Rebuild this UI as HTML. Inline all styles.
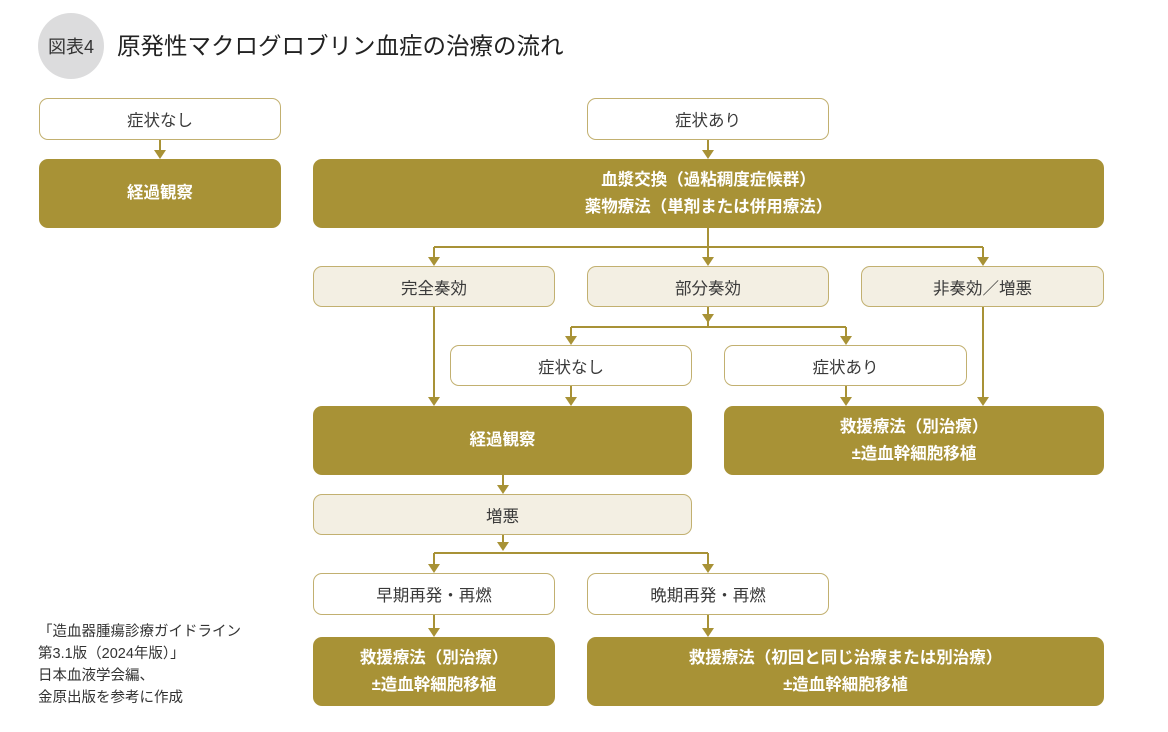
<!DOCTYPE html>
<html><head><meta charset="utf-8"><style>
*{margin:0;padding:0;box-sizing:border-box}
body{width:1168px;height:732px;background:#fff;position:relative;overflow:hidden;font-family:"Liberation Sans","Noto Sans CJK JP",sans-serif;color:#3a3a3a}
.b{position:absolute;border-radius:9px;display:flex;align-items:center;justify-content:center;text-align:center;font-size:16.5px}
.w{background:#fff;border:1.5px solid #c2b070}
.l{background:#f3efe3;border:1.5px solid #c2b070}
.d{background:#a89236;color:#fff;font-weight:bold;line-height:27px}
svg{position:absolute;left:0;top:0}
</style></head><body>
<div style="position:absolute;left:38px;top:13px;width:66px;height:66px;border-radius:50%;background:#dcdcdd;display:flex;align-items:center;justify-content:center;font-size:18px;color:#333">図表4</div>
<div style="position:absolute;left:117px;top:30px;font-size:23.5px;color:#222;line-height:32px">原発性マクログロブリン血症の治療の流れ</div>

<svg width="1168" height="732" fill="#a89236" stroke="none">
<g stroke="#a89236" stroke-width="2" fill="none">
<path d="M160 140V152"/>
<path d="M708 140V152"/>
<path d="M708 228V247M434 247H983M434 247V258M708 247V258M983 247V258"/>
<path d="M708 307V318M571 327H846M571 327V338M846 327V338M708 318V327"/>
<path d="M434 307V398M571 386V398M846 386V398M983 307V398"/>
<path d="M503 475V486"/>
<path d="M503 535V546M434 553H708M434 553V565M708 553V565"/>
<path d="M434 615V629M708 615V629"/>
</g>
<path d="M154 150h12l-6 9z"/><path d="M702 150h12l-6 9z"/>
<path d="M428 257h12l-6 9z"/><path d="M702 257h12l-6 9z"/><path d="M977 257h12l-6 9z"/>
<path d="M702 314h12l-6 9z"/>
<path d="M565 336h12l-6 9z"/><path d="M840 336h12l-6 9z"/>
<path d="M428 397h12l-6 9z"/><path d="M565 397h12l-6 9z"/><path d="M840 397h12l-6 9z"/><path d="M977 397h12l-6 9z"/>
<path d="M497 485h12l-6 9z"/>
<path d="M497 542h12l-6 9z"/>
<path d="M428 564h12l-6 9z"/><path d="M702 564h12l-6 9z"/>
<path d="M428 628h12l-6 9z"/><path d="M702 628h12l-6 9z"/>
</svg>

<div class="b w" style="left:39px;top:98px;width:242px;height:42px">症状なし</div>
<div class="b d" style="left:39px;top:159px;width:242px;height:69px">経過観察</div>
<div class="b w" style="left:587px;top:98px;width:242px;height:42px">症状あり</div>
<div class="b d" style="left:313px;top:159px;width:791px;height:69px">血漿交換（過粘稠度症候群）<br>薬物療法（単剤または併用療法）</div>
<div class="b l" style="left:313px;top:266px;width:242px;height:41px">完全奏効</div>
<div class="b l" style="left:587px;top:266px;width:242px;height:41px">部分奏効</div>
<div class="b l" style="left:861px;top:266px;width:243px;height:41px">非奏効／増悪</div>
<div class="b w" style="left:450px;top:345px;width:242px;height:41px">症状なし</div>
<div class="b w" style="left:724px;top:345px;width:243px;height:41px">症状あり</div>
<div class="b d" style="left:313px;top:406px;width:379px;height:69px">経過観察</div>
<div class="b d" style="left:724px;top:406px;width:380px;height:69px">救援療法（別治療）<br>±造血幹細胞移植</div>
<div class="b l" style="left:313px;top:494px;width:379px;height:41px">増悪</div>
<div class="b w" style="left:313px;top:573px;width:242px;height:42px">早期再発・再燃</div>
<div class="b w" style="left:587px;top:573px;width:242px;height:42px">晩期再発・再燃</div>
<div class="b d" style="left:313px;top:637px;width:242px;height:69px">救援療法（別治療）<br>±造血幹細胞移植</div>
<div class="b d" style="left:587px;top:637px;width:517px;height:69px">救援療法（初回と同じ治療または別治療）<br>±造血幹細胞移植</div>

<div style="position:absolute;left:38px;top:621px;font-size:14.5px;line-height:22px;color:#333">「造血器腫瘍診療ガイドライン<br>第3.1版（2024年版）」<br>日本血液学会編、<br>金原出版を参考に作成</div>
</body></html>
